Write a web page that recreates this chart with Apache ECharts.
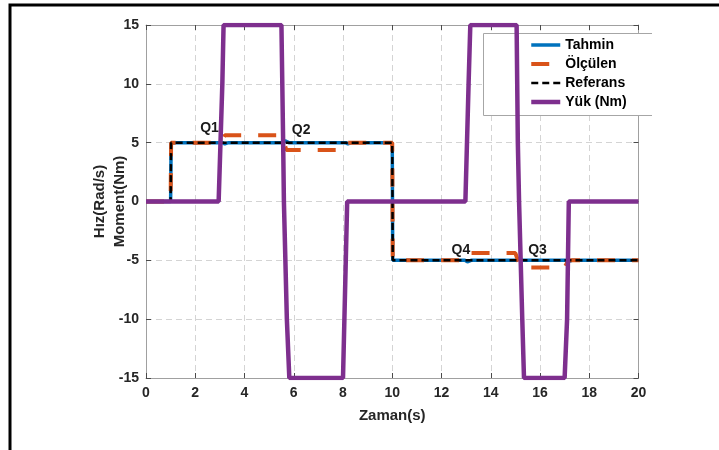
<!DOCTYPE html>
<html>
<head>
<meta charset="utf-8">
<script src="https://cdn.jsdelivr.net/npm/echarts@6/dist/echarts.min.js"></script>
<style>
  html, body { margin: 0; padding: 0; background: #fff; }
  #chart { width: 719px; height: 450px; }
</style>
</head>
<body>
<div id="chart"></div>
<script>
// Speed reference (rad/s): step up at 1 s, step down at 10 s
const refTimes   = [0, 1, 1.02, 10, 10.02, 20];
const refValues  = [0, 0, 5, 5, -5, -5];

// Estimated speed (rad/s)
const estTimes   = [0, 1, 1.02, 3.1, 3.2, 3.35, 5.55, 5.65, 5.8, 8.1, 8.2, 8.35, 10, 10.02, 12.95, 13.05, 13.2, 15.05, 15.15, 15.3, 17.05, 17.15, 17.3, 20];
const estValues  = [0, 0, 5, 5, 4.9, 5, 5, 5.15, 5, 5, 4.9, 5, 5, -5, -5, -5.12, -5, -5, -4.88, -5, -5, -5.1, -5, -5];

// Measured speed (rad/s)
const measTimes  = [0, 1, 1.02, 3.05, 3.2, 5.5, 5.7, 8.0, 8.15, 10, 10.02, 12.95, 13.1, 15.0, 15.2, 17.0, 17.15, 20];
const measValues = [0, 0, 5, 5, 5.62, 5.62, 4.38, 4.38, 5, 5, -5, -5, -4.38, -4.38, -5.6, -5.6, -5, -5];

// Load torque (Nm)
const loadTimes  = [0, 2.95, 3.1, 3.15, 5.5, 5.57, 5.6, 5.72, 5.82, 8.0, 8.17, 12.97, 13.1, 13.17, 15.05, 15.1, 15.15, 15.28, 15.35, 17.0, 17.1, 17.17, 20];
const loadValues = [0, 0, 10, 15, 15, 5, 0, -10, -15, -15, 0, 0, 10, 15, 15, 5, 0, -10, -15, -15, -10, 0, 0];

// Operating-point annotations
const noteNames  = ['Q1', 'Q2', 'Q4', 'Q3'];
const noteTimes  = [2.58, 6.3, 12.79, 15.9];
const noteValues = [6.24, 6.07, -4.16, -4.16];

const seriesNames = ['Tahmin', 'Ölçülen', 'Referans', 'Yük (Nm)'];
const xMin = 0, xMax = 20, xStep = 2;
const yMin = -15, yMax = 15, yStep = 5;

const pairs = (t, v) => t.map((x, i) => [x, v[i]]);

const FONT = 'Liberation Sans, Arial, sans-serif';
const tickFont = { fontFamily: FONT, fontWeight: 'bold', fontSize: 14, color: '#262626' };
const gridLine = { show: true, lineStyle: { color: '#d4d4d4', type: [6, 4], width: 1 } };
const axisLine = { show: true, onZero: false, lineStyle: { color: '#a0a0a0', width: 1 } };
const axisTick = { show: true, inside: true, length: 5, lineStyle: { color: '#4a4a4a' } };

const styles = [
  { color: '#0072BD', width: 3.5, type: 'solid' },
  { color: '#D95319', width: 4, type: [18, 17] },
  { color: '#000000', width: 2.5, type: [7, 4] },
  { color: '#7E2F8E', width: 4.5, type: 'solid' }
];

const chart = echarts.init(document.getElementById('chart'), null, { renderer: 'canvas' });

chart.setOption({
  animation: false,
  backgroundColor: '#ffffff',
  grid: { left: 146, right: 80.5, top: 25, bottom: 72, containLabel: false },
  xAxis: [
    {
      type: 'value', min: xMin, max: xMax, interval: xStep,
      name: 'Zaman(s)', nameLocation: 'middle', nameGap: 30,
      nameTextStyle: { fontFamily: FONT, fontWeight: 'bold', fontSize: 15, color: '#262626' },
      axisLine, axisTick, splitLine: gridLine,
      axisLabel: Object.assign({ margin: 8 }, tickFont)
    },
    {
      type: 'value', position: 'top', min: xMin, max: xMax, interval: xStep,
      axisLine, axisTick, splitLine: { show: false }, axisLabel: { show: false }
    }
  ],
  yAxis: [
    {
      type: 'value', min: yMin, max: yMax, interval: yStep,
      name: 'Hız(Rad/s)\nMoment(Nm)', nameLocation: 'middle', nameGap: 16, nameMoveOverlap: false,
      nameTextStyle: { fontFamily: FONT, fontWeight: 'bold', fontSize: 15, color: '#262626', lineHeight: 20 },
      axisLine, axisTick, splitLine: gridLine,
      axisLabel: Object.assign({ margin: 7 }, tickFont)
    },
    {
      type: 'value', position: 'right', min: yMin, max: yMax, interval: yStep,
      axisLine, axisTick, splitLine: { show: false }, axisLabel: { show: false }
    }
  ],
  legend: {
    data: seriesNames.map((n, i) => ({
      name: n,
      itemStyle: { opacity: 0 },
      lineStyle: { color: styles[i].color, width: styles[i].width, type: styles[i].type, opacity: 1 }
    })),
    orient: 'vertical',
    left: 529, top: 38, padding: 0,
    itemWidth: 29, itemHeight: 14, itemGap: 5,
    textStyle: { fontFamily: FONT, fontWeight: 'bold', fontSize: 14, color: '#000' }
  },
  graphic: [
    // legend panel
    { type: 'rect', z: 3, silent: true, shape: { x: 483, y: 33, width: 169, height: 82 }, style: { fill: '#ffffff' } },
    { type: 'polyline', z: 3, silent: true, shape: { points: [[652, 33.5], [483.5, 33.5], [483.5, 115.5], [652, 115.5]] }, style: { stroke: '#a6a6a6', lineWidth: 1, fill: null } },
    // figure frame
    { type: 'polyline', z: 10, silent: true, shape: { points: [[10, 450], [10, 5], [719, 5]] }, style: { stroke: '#000', lineWidth: 3, fill: null } }
  ],
  series: [
    [estTimes, estValues], [measTimes, measValues], [refTimes, refValues], [loadTimes, loadValues]
  ].map(([t, v], i) => ({
    name: seriesNames[i], type: 'line', data: pairs(t, v),
    symbol: 'none', color: styles[i].color,
    lineStyle: { width: styles[i].width, color: styles[i].color, type: styles[i].type }
  })).concat([{
    name: 'notes', type: 'scatter', silent: true, z: 5,
    data: noteTimes.map((t, i) => ({ name: noteNames[i], value: [t, noteValues[i]] })),
    symbolSize: 1, itemStyle: { color: 'rgba(0,0,0,0)' },
    label: {
      show: true, position: 'inside', formatter: p => p.name, opacity: 1,
      textBorderWidth: 0, textBorderColor: 'transparent',
      fontFamily: FONT, fontWeight: 'bold', fontSize: 14, color: '#1a1a1a'
    },
    labelLayout: { hideOverlap: false }
  }])
});
</script>
</body>
</html>
